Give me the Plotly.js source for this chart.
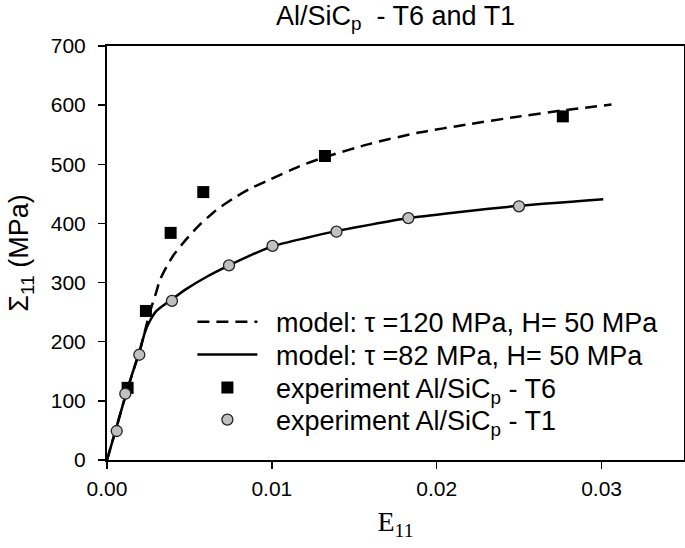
<!DOCTYPE html>
<html>
<head>
<meta charset="utf-8">
<script src="https://cdn.plot.ly/plotly-3.0.1.min.js"></script>
<style>html,body{margin:0;padding:0;background:#fff;}#chart{width:685px;height:548px;}</style>
</head>
<body>
<div id="chart"></div>
<script>
// Model curve, tau = 120 MPa, H = 50 MPa (dashed)
const modelT6_E = [0, 0.0005, 0.001, 0.0015, 0.002, 0.0023, 0.0026, 0.003, 0.0032, 0.0036, 0.004, 0.0048, 0.0056, 0.0066, 0.0077, 0.0087, 0.0097, 0.0117, 0.0132, 0.016, 0.0188, 0.022, 0.0248, 0.0276, 0.0306];
const modelT6_S = [0, 48, 97, 143, 186, 218, 250, 285, 304, 326, 345, 373, 397, 422, 443, 459, 472, 497, 512, 535, 553, 568, 580, 591, 601];
// Model curve, tau = 82 MPa, H = 50 MPa (solid)
const modelT1_E = [0, 0.0005, 0.001, 0.0015, 0.002, 0.0023, 0.0026, 0.003, 0.0035, 0.0039, 0.0048, 0.006, 0.0074, 0.0087, 0.0101, 0.012, 0.0139, 0.016, 0.0183, 0.021, 0.025, 0.0301];
const modelT1_S = [0, 48, 97, 143, 186, 216, 235, 252, 263, 271, 289, 309, 329, 346, 362, 375, 387, 398, 409, 418, 430, 441];
// Experiment T6 (squares)
const expT6_E = [0.00125, 0.00236, 0.00386, 0.00584, 0.01322, 0.02765];
const expT6_S = [122, 252, 384, 453, 514, 581];
// Experiment T1 (circles)
const expT1_E = [0.00059, 0.00111, 0.00196, 0.00394, 0.0074, 0.01004, 0.01392, 0.01828, 0.02499];
const expT1_S = [49, 112, 178, 269, 329, 362, 386, 409, 429];

const xTicks = [0, 0.01, 0.02, 0.03];
const xTickText = ['0.00', '0.01', '0.02', '0.03'];
const yTicks = [0, 100, 200, 300, 400, 500, 600, 700];

const SANS = 'Liberation Sans, Arial, sans-serif';
const SP = '\u2002';

const traces = [
  {x: modelT6_E, y: modelT6_S, mode: 'lines', name: SP + 'model: \u03c4 =120 MPa, H= 50 MPa', legend: 'legend',
   line: {color: '#000', width: 2.5, dash: '12px,7px', shape: 'spline', smoothing: 0.5}},
  {x: modelT1_E, y: modelT1_S, mode: 'lines', name: SP + 'model: \u03c4 =82 MPa, H= 50 MPa', legend: 'legend2',
   line: {color: '#000', width: 2.5, shape: 'spline', smoothing: 0.5}},
  {x: expT6_E, y: expT6_S, mode: 'markers', name: SP + 'experiment Al/SiC<sub>p</sub> - T6', legend: 'legend3',
   marker: {symbol: 'square', size: 12, color: '#000', line: {color: '#000', width: 0}}},
  {x: expT1_E, y: expT1_S, mode: 'markers', name: SP + 'experiment Al/SiC<sub>p</sub> - T1', legend: 'legend4',
   marker: {symbol: 'circle', size: 11, color: '#c0c0c0', line: {color: '#222', width: 1.3}}}
];

function leg(yc) {
  return {x: 0.148, y: yc, xanchor: 'left', yanchor: 'middle', bgcolor: 'rgba(0,0,0,0)',
          font: {family: SANS, size: 27, color: '#000'}, itemwidth: 60, tracegroupgap: 0};
}

const layout = {
  width: 685, height: 548,
  margin: {l: 107, r: 1, t: 46, b: 88},
  paper_bgcolor: '#fff', plot_bgcolor: '#fff',
  font: {family: SANS, color: '#000', size: 20},
  showlegend: true,
  title: {text: 'Al/SiC<sub>p</sub>  - T6 and T1', font: {family: SANS, size: 27, color: '#000'},
          x: 0.5775, xanchor: 'center', y: 0.972, yanchor: 'middle'},
  legend: leg(0.333),
  legend2: leg(0.2536),
  legend3: leg(0.1739),
  legend4: leg(0.0966),
  xaxis: {range: [0, 0.035], tickvals: xTicks, ticktext: xTickText, ticks: 'outside', ticklen: 7, tickwidth: 1.5,
          tickcolor: '#000', showline: true, linecolor: '#000', linewidth: 2, mirror: true,
          showgrid: false, zeroline: false, tickfont: {family: SANS, size: 21}, ticklabelstandoff: 2,
          title: {text: 'E<sub>11</sub>', font: {family: 'Liberation Serif, Times New Roman, serif', size: 28}, standoff: 12}},
  yaxis: {range: [0, 700], tickvals: yTicks, ticks: 'outside', ticklen: 7, tickwidth: 1.5,
          tickcolor: '#000', showline: true, linecolor: '#000', linewidth: 2, mirror: true,
          showgrid: false, zeroline: false, tickfont: {family: SANS, size: 21}, ticklabelstandoff: 8,
          title: {text: '\u03a3<sub>11</sub> (MPa)', font: {family: SANS, size: 27}, standoff: 14}}
};

Plotly.newPlot('chart', traces, layout, {displayModeBar: false, staticPlot: true});
</script>
</body>
</html>
